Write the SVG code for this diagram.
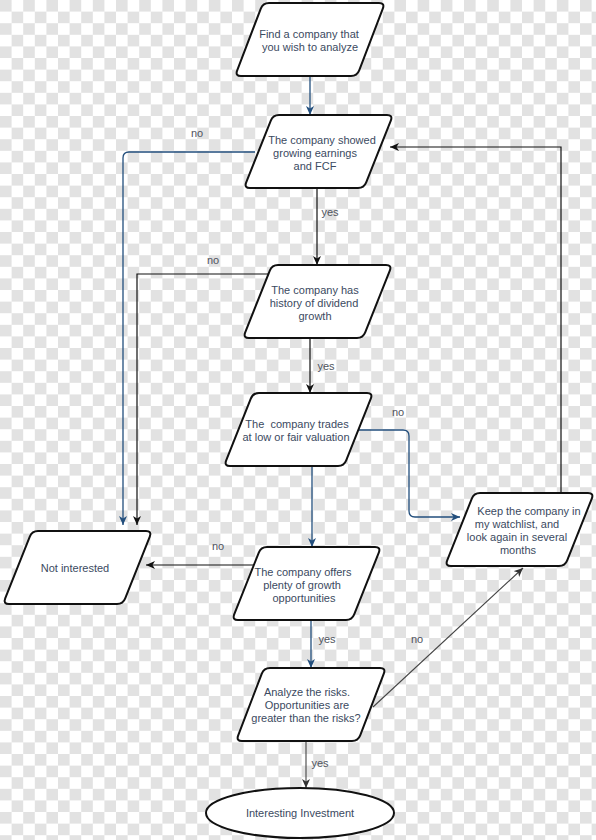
<svg xmlns="http://www.w3.org/2000/svg" xmlns:xlink="http://www.w3.org/1999/xlink" width="596" height="840" viewBox="0 0 596 840">
<style>
.t{font-family:"Liberation Sans",Arial,sans-serif;font-size:11px;fill:#3b4a61;text-anchor:middle}
.l{font-family:"Liberation Sans",Arial,sans-serif;font-size:11px;fill:#50545e;text-anchor:middle}
.shape{fill:#fff;stroke:#111;stroke-width:2}
.cb{fill:none;stroke:#234f7d;stroke-width:1.3}
.ck{fill:none;stroke:#111;stroke-width:1.2}
.cg{fill:none;stroke:#444;stroke-width:1.1}
</style>
<defs>
<pattern id="chk" width="23.2" height="23.2" patternUnits="userSpaceOnUse">
<rect width="23.2" height="23.2" fill="#fff"/>
<rect width="11.6" height="11.6" fill="#e2e2e2"/>
<rect x="11.6" y="11.6" width="11.6" height="11.6" fill="#e2e2e2"/>
</pattern>
<path id="para" d="M6,0 H114 Q120,0 117.8,5.6 L93.2,67.4 Q91,73 85,73 H-23 Q-29,73 -26.8,67.4 L-2.2,5.6 Q0,0 6,0 Z"/>
<path id="paraw" d="M6,0 H116 Q122,0 119.8,5.6 L96.2,67.4 Q94,73 88,73 H-22 Q-28,73 -25.8,67.4 L-2.2,5.6 Q0,0 6,0 Z"/>
<marker id="ab" markerUnits="userSpaceOnUse" markerWidth="12" markerHeight="10" refX="9" refY="4" orient="auto"><path d="M0,0 L9,4 L0,8 L2.5,4 Z" fill="#234f7d"/></marker>
<marker id="ak" markerUnits="userSpaceOnUse" markerWidth="12" markerHeight="10" refX="9" refY="4" orient="auto"><path d="M0,0 L9,4 L0,8 L2.5,4 Z" fill="#111"/></marker>
<marker id="ag" markerUnits="userSpaceOnUse" markerWidth="12" markerHeight="10" refX="9" refY="4" orient="auto"><path d="M0,0 L9,4 L0,8 L2.5,4 Z" fill="#333"/></marker>
</defs>
<rect width="596" height="840" fill="url(#chk)"/>

<g id="connectors">
<path class="cb" d="M310,76 V115" marker-end="url(#ab)"/>
<path class="cb" d="M255,152 H129 Q123,152 123,158 V525" marker-end="url(#ab)"/>
<path class="ck" d="M268,274 H137 V525" marker-end="url(#ak)"/>
<path class="ck" d="M317,188 V265" marker-end="url(#ak)"/>
<path class="ck" d="M310,338 V393" marker-end="url(#ak)"/>
<path class="cb" d="M357,430 H403 Q409,430 409,436 V511 Q409,517 415,517 H460" marker-end="url(#ab)"/>
<path class="cb" d="M312,466 V547" marker-end="url(#ab)"/>
<path class="ck" d="M254,565 H146" marker-end="url(#ak)"/>
<path class="cb" d="M311,619 V668" marker-end="url(#ab)"/>
<path class="cg" d="M373,707 L523,568" marker-end="url(#ag)"/>
<path class="cg" d="M306,740 V788" marker-end="url(#ag)"/>
<path class="ck" d="M561,493 V147 H390" marker-end="url(#ak)"/>
<text class="l" x="197" y="137">no</text>
<text class="l" x="330" y="216">yes</text>
<text class="l" x="213" y="264">no</text>
<text class="l" x="326" y="370">yes</text>
<text class="l" x="398" y="416">no</text>
<text class="l" x="218" y="550">no</text>
<text class="l" x="327" y="643">yes</text>
<text class="l" x="417" y="643">no</text>
<text class="l" x="320" y="767">yes</text>
</g>

<g id="n1">
<use xlink:href="#paraw" class="shape" x="263" y="3"/>
<text class="t" x="309" y="38">Find a company that</text>
<text class="t" x="310" y="51">you wish to analyze</text>
</g>
<g id="n2">
<use xlink:href="#para" class="shape" x="273" y="115"/>
<text class="t" x="322" y="144">The company showed</text>
<text class="t" x="315" y="157">growing earnings</text>
<text class="t" x="315" y="170">and FCF</text>
</g>
<g id="n3">
<use xlink:href="#para" class="shape" x="272" y="265"/>
<text class="t" x="315" y="294">The company has</text>
<text class="t" x="314" y="307">history of dividend</text>
<text class="t" x="315" y="320">growth</text>
</g>
<g id="n4">
<use xlink:href="#para" class="shape" x="253" y="393"/>
<text class="t" x="297" y="428" style="white-space:pre">The  company trades</text>
<text class="t" x="296" y="441">at low or fair valuation</text>
</g>
<g id="n5">
<use xlink:href="#para" class="shape" x="32" y="531"/>
<text class="t" x="75" y="572">Not interested</text>
</g>
<g id="n6">
<use xlink:href="#para" class="shape" x="261" y="547"/>
<text class="t" x="303" y="576">The company offers</text>
<text class="t" x="302" y="589">plenty of growth</text>
<text class="t" x="304" y="602">opportunities</text>
</g>
<g id="n7">
<use xlink:href="#para" class="shape" x="474" y="493"/>
<text class="t" x="529" y="515">Keep the company in</text>
<text class="t" x="517" y="528">my watchlist, and</text>
<text class="t" x="517" y="541">look again in several</text>
<text class="t" x="518" y="554">months</text>
</g>
<g id="n8">
<use xlink:href="#paraw" class="shape" x="264" y="668"/>
<text class="t" x="307" y="696">Analyze the risks.</text>
<text class="t" x="307" y="709">Opportunities are</text>
<text class="t" x="306" y="722">greater than the risks?</text>
</g>
<g id="n9">
<ellipse class="shape" cx="300" cy="813" rx="94" ry="25"/>
<text class="t" x="300" y="817">Interesting Investment</text>
</g>
</svg>
